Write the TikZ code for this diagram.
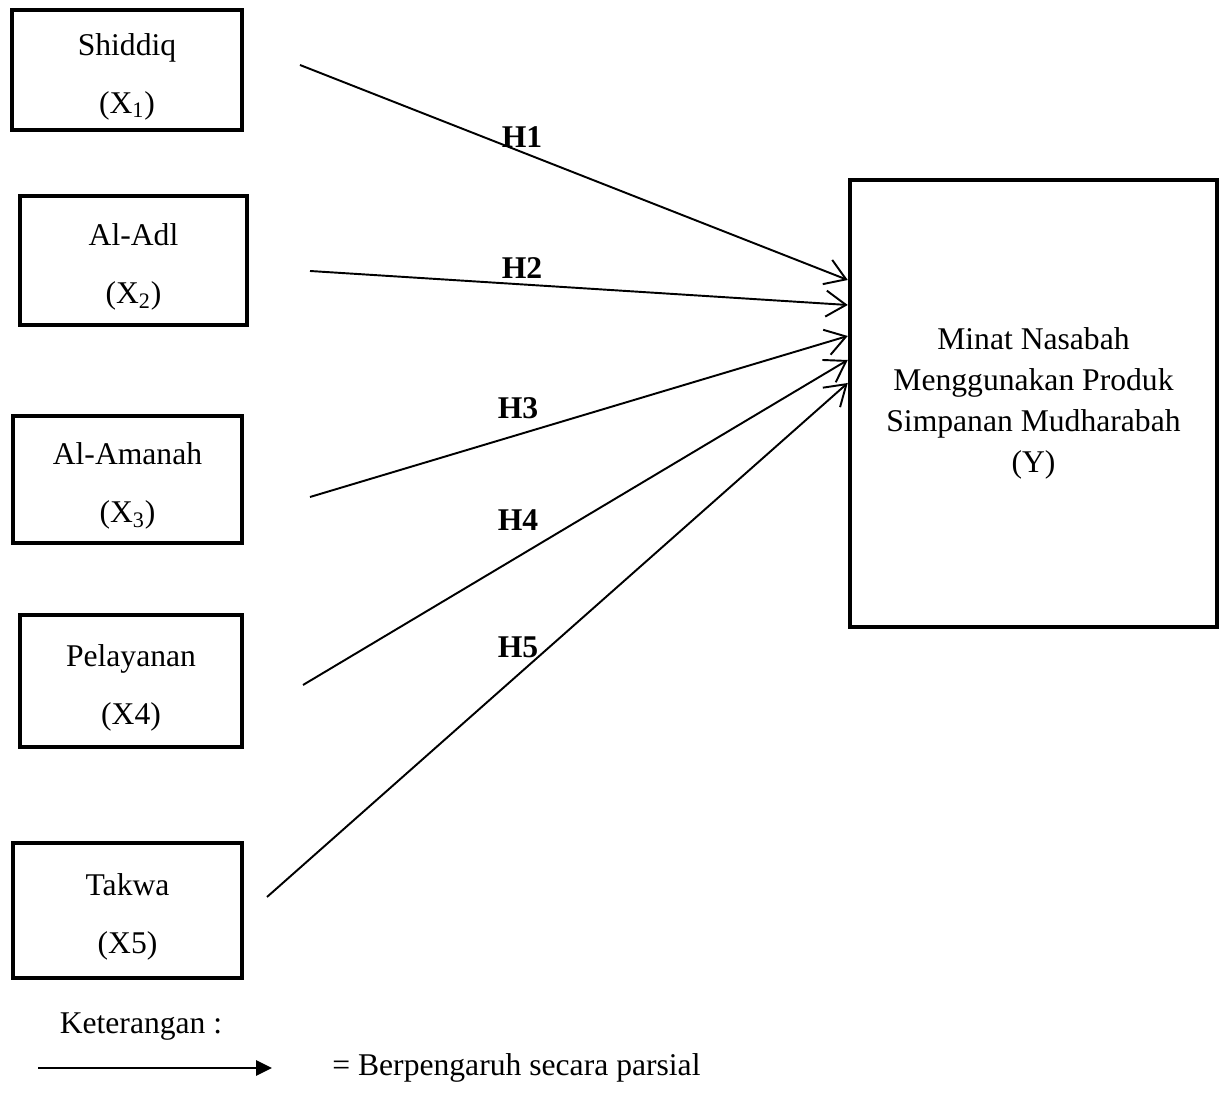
\documentclass[tikz,border=0pt]{standalone}
\usepackage{fontspec}
\setmainfont{Liberation Serif}
\usetikzlibrary{arrows.meta,positioning,calc}

\newcommand{\topstrut}{\rule{0pt}{20pt}}

\begin{document}
\begin{tikzpicture}[
    x=0.02cm, y=-0.02cm,
    font=\fontsize{18}{33}\selectfont,
    var/.style={
        draw=black,
        line width=2.6pt,
        align=center,
        inner sep=0pt
    },
    target/.style={
        draw=black,
        line width=2.6pt,
        align=center,
        inner sep=0pt,
        font=\fontsize{18}{23.3}\selectfont
    },
    hyp/.style={font=\fontsize{18}{20}\selectfont\bfseries},
    arrow/.style={-{Straight Barb[length=4mm,width=5.2mm]}, line width=1.1pt},
    legend/.style={-{Triangle[length=3.2mm,width=3mm]}, line width=1.5pt}
]
\useasboundingbox (0,0) rectangle (1225,1097);

% Independent variables (left column)
\node[var, minimum width=4.6cm, minimum height=2.4cm] (shiddiq) at (127,70) {\topstrut Shiddiq\\(X\textsubscript{1})};
\node[var, minimum width=4.54cm, minimum height=2.58cm] (adl) at (133.5,260.5) {\topstrut Al-Adl\\(X\textsubscript{2})};
\node[var, minimum width=4.58cm, minimum height=2.54cm] (amanah) at (127.5,479.5) {\topstrut Al-Amanah\\(X\textsubscript{3})};
\node[var, minimum width=4.44cm, minimum height=2.64cm] (pelayanan) at (131,681) {\topstrut Pelayanan\\(X4)};
\node[var, minimum width=4.58cm, minimum height=2.7cm] (takwa) at (127.5,910.5) {\topstrut Takwa\\(X5)};

% Dependent variable
\node[target, minimum width=7.34cm, minimum height=8.94cm] (minat) at (1033.5,403.5)
    {Minat Nasabah\\Menggunakan Produk\\Simpanan Mudharabah\\(Y)};

% Arrow start points
\coordinate (s1) at (300,65);
\coordinate (s2) at (310,271);
\coordinate (s3) at (310,497);
\coordinate (s4) at (303,685);
\coordinate (s5) at (267,897);

\draw[arrow] (s1) -- ($(minat.west)+(0,-123.5)$);
\draw[arrow] (s2) -- ($(minat.west)+(0,-98.5)$);
\draw[arrow] (s3) -- ($(minat.west)+(0,-67.5)$);
\draw[arrow] (s4) -- ($(minat.west)+(0,-43.5)$);
\draw[arrow] (s5) -- ($(minat.west)+(0,-20.5)$);

% Hypothesis labels
\node[hyp] (h1) at (522,137) {H1};
\node[hyp] (h2) at (522,268) {H2};
\node[hyp] (h3) at (518,408) {H3};
\node[hyp] (h4) at (518,520) {H4};
\node[hyp] (h5) at (518,647) {H5};

% Legend
\node (ket) at (141,1027) {Keterangan :};
\coordinate (la) at (38,1068);
\coordinate (lb) at (272,1068);
\draw[legend] (la) -- (lb);
\node[anchor=west, inner sep=0pt] (keterangan) at (332,1068) {= Berpengaruh secara parsial};

\end{tikzpicture}
\end{document}
